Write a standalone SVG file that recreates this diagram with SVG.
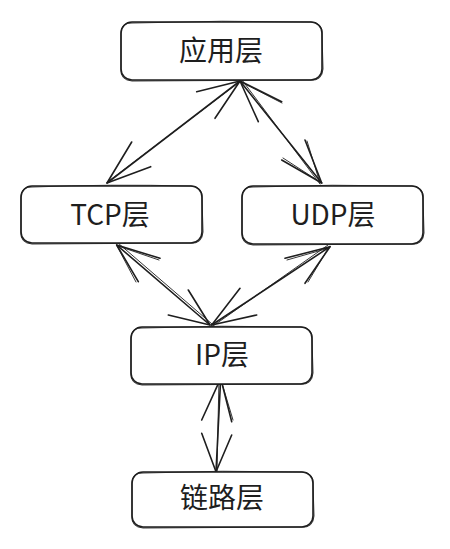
<svg xmlns="http://www.w3.org/2000/svg" width="450" height="549" viewBox="0 0 450 549">
<style>
.box{fill:#fff;stroke:#1e1e1e;stroke-width:1.6;}
.sk{fill:none;stroke:#1e1e1e;stroke-width:0.9;}
.lbl{font-family:"Noto Sans CJK SC","Liberation Sans",sans-serif;font-size:28px;fill:#1e1e1e;text-anchor:middle;}
.ln{fill:none;stroke:#1e1e1e;stroke-width:1.6;stroke-linecap:round;}
.ln2{fill:none;stroke:#1e1e1e;stroke-width:0.9;stroke-linecap:round;}
</style>
<rect width="450" height="549" fill="#fff"/>
<g id="connectors">
  <g id="app-tcp">
    <path class="ln" d="M240 81 L107 183"/>
    <path class="ln2" d="M238 83 L109 181"/>
    <path class="ln" d="M107 183 L131.7 142 M107 183 L150.7 166.7 M240 81 L196.7 91.7 M240 81 L215 118.3"/>
  </g>
  <g id="app-udp">
    <path class="ln" d="M240 81 L321.7 183"/>
    <path class="ln2" d="M242 80 L320 184"/>
    <path class="ln" d="M321.7 183 L281.7 160 M321.7 183 L305 140 M240 81 L281.7 101.7 M240 81 L258.3 121.7"/>
    <path class="ln2" d="M320 182 L283 158 M320 183 L307 141 M241 82 L282 103"/>
  </g>
  <g id="tcp-ip">
    <path class="ln" d="M116.7 245 L210 325"/>
    <path class="ln2" d="M118 243 L212 324"/>
    <path class="ln" d="M116.7 245 L160 258.3 M116.7 245 L138.3 281.7 M210 325 L188.3 290 M210 325 L168.3 315"/>
    <path class="ln2" d="M118 246 L159 260 M117 246 L136 282"/>
  </g>
  <g id="udp-ip">
    <path class="ln" d="M330 246.7 L211.7 325"/>
    <path class="ln2" d="M328 245 L213 326"/>
    <path class="ln" d="M330 246.7 L285 258.3 M330 246.7 L305 283.3 M211.7 325 L240 288.3 M211.7 325 L256.7 315"/>
    <path class="ln2" d="M329 248 L287 260 M329 247 L308 282"/>
  </g>
  <g id="ip-link">
    <path class="ln" d="M220.7 378.3 L216 471.7"/>
    <path class="ln2" d="M219 379 L217 471"/>
    <path class="ln" d="M220.7 378.3 L201.7 420 M220.7 378.3 L231.7 421.7 M216 471.7 L201.7 433.3 M216 471.7 L231.7 435"/>
    <path class="ln2" d="M221 380 L233 420"/>
  </g>
</g>
<g id="node-app">
  <rect class="box" x="121" y="22" width="201" height="58" rx="11"/>
  <path class="sk" d="M132 23 Q222 20 311 22 Q323 23 322 34 L323 69 Q322 81 311 80 L132 81 Q120 80 121 69 L121 34 Q121 22 132 23"/>
  <text class="lbl" x="221" y="61">应用层</text>
</g>
<g id="node-tcp">
  <rect class="box" x="21" y="186" width="181" height="57" rx="11"/>
  <path class="sk" d="M32 187 Q110 184 191 186 Q203 187 202 198 L203 232 Q202 244 191 243 L32 244 Q20 243 21 232 L21 198 Q21 186 32 187"/>
  <text class="lbl" x="110" y="225">TCP层</text>
</g>
<g id="node-udp">
  <rect class="box" x="242" y="186" width="181" height="58" rx="11"/>
  <path class="sk" d="M253 187 Q332 184 412 186 Q424 187 423 198 L424 233 Q423 245 412 244 L253 245 Q241 244 242 233 L242 198 Q242 186 253 187"/>
  <text class="lbl" x="333" y="225">UDP层</text>
</g>
<g id="node-ip">
  <rect class="box" x="131" y="327" width="181" height="57" rx="11"/>
  <path class="sk" d="M142 328 Q221 325 301 327 Q313 328 312 339 L313 373 Q312 385 301 384 L142 385 Q130 384 131 373 L131 339 Q131 327 142 328"/>
  <text class="lbl" x="222" y="365">IP层</text>
</g>
<g id="node-link">
  <rect class="box" x="132" y="472" width="181" height="55" rx="11"/>
  <path class="sk" d="M143 473 Q222 470 302 472 Q314 473 313 484 L314 516 Q313 528 302 527 L143 528 Q131 527 132 516 L132 484 Q132 472 143 473"/>
  <text class="lbl" x="222" y="508">链路层</text>
</g>
</svg>
